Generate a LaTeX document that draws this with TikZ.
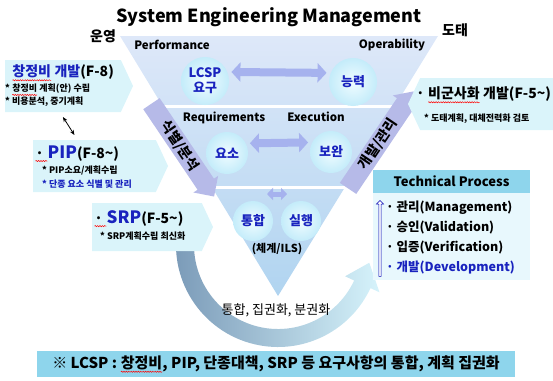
\documentclass[tikz,border=0pt]{standalone}
\usepackage{fontspec}
\setmainfont{Noto Sans CJK KR}
\usetikzlibrary{arrows.meta,positioning,shapes.arrows,shapes.symbols,decorations.pathmorphing}

\definecolor{kblue}{RGB}{25,35,190}
\definecolor{bandtop}{RGB}{222,232,249}
\definecolor{bandbot}{RGB}{176,212,240}
\definecolor{bubblein}{RGB}{240,252,255}
\definecolor{bubbleout}{RGB}{196,236,250}
\definecolor{dblarr}{RGB}{166,178,238}
\definecolor{sidearr}{RGB}{182,186,232}
\definecolor{boxcyan}{RGB}{218,244,250}
\definecolor{headcyan}{RGB}{142,213,236}
\definecolor{bodycyan}{RGB}{232,248,253}
\definecolor{arcdark}{RGB}{120,152,182}
\definecolor{arcpale}{RGB}{214,243,251}

\newcommand{\fsz}[1]{\fontsize{#1}{#1}\selectfont}
\newcommand{\squig}[1]{\tikz[baseline=(sq.base)]{\node[inner sep=0pt, outer sep=0pt, minimum width=0pt,
    minimum height=0pt, fill=none, draw=none, anchor=center] (sq) {#1};
  \draw[red, line width=0.5pt, decorate, decoration={snake, amplitude=0.6pt, segment length=2.4pt}]
    ([yshift=-2.2pt]sq.south west) -- ([yshift=-2.2pt]sq.south east);}}

\begin{document}
\begin{tikzpicture}[x=1pt, y=-1pt,
    bubble/.style={circle, minimum size=#1, inner sep=0pt, align=center,
      inner color=bubblein, outer color=bubbleout, text=kblue, font=\bfseries\fsz{13}},
    phase/.style={font=\bfseries\fsz{11.5}},
    dblarrow/.style={dblarr, line width=8pt, shorten <=4pt, shorten >=4pt,
      {Triangle[length=9pt,width=19pt]}-{Triangle[length=9pt,width=19pt]}},
    dblsmall/.style={dblarr, line width=5pt, {Triangle[length=6pt,width=12pt]}-{Triangle[length=6pt,width=12pt]}},
    sidearrow/.style={single arrow, fill=sidearr, minimum height=#1, inner sep=2.5pt,
      single arrow head extend=5pt, font=\bfseries\fsz{14}},
    planbox/.style={signal, signal pointer angle=130, fill=boxcyan, inner sep=0pt, outer sep=0pt, minimum height=52pt},
    note/.style={anchor=west, inner sep=0pt, font=\bfseries\fsz{9}},
    item/.style={anchor=west, inner sep=0pt, font=\bfseries\fsz{12.5}}
  ]
  \useasboundingbox (0,0) rectangle (553,380);

  % Triangle
  \shade[top color=bandtop, bottom color=bandbot] (120,36) -- (438,36) -- (278,296) -- cycle;
  \draw[white, line width=3pt] (158,106) -- (400,106);
  \draw[white, line width=3pt] (208,187) -- (350,187);

  % Curved arrow
  \coordinate (hub) at (278,245);
  \shade[left color=arcdark, right color=arcpale]
    ([shift={(190:102)}]hub) arc[start angle=190, end angle=25, radius=102]
    -- ([shift={(25:112)}]hub) -- ([shift={(11:93)}]hub) -- ([shift={(25:74)}]hub)
    -- ([shift={(25:84)}]hub) arc[start angle=25, end angle=190, radius=84] -- cycle;
  \node[font=\fsz{13}] (modes) at (276,310) {통합, 집권화, 분권화};

  % Titles
  \node[font=\bfseries\fsz{18}] (title) at (269,17) {System Engineering Management};
  \node[font=\bfseries\fsz{14}] (operate) at (103,36) {운영};
  \node[font=\bfseries\fsz{14}] (retire) at (455,30) {도태};

  % Layers
  \node[phase] (perf) at (172,45) {Performance};
  \node[phase] (oper) at (392,45) {Operability};
  \node[phase] (req) at (224,118) {Requirements};
  \node[phase] (exe) at (316,117) {Execution};

  \node[bubble=48pt, font=\bfseries\fontsize{13}{15}\selectfont] (lcsp) at (205,81) {LCSP\\요구};
  \node[bubble=48pt] (ability) at (353,82) {능력};
  \node[bubble=42pt] (element) at (227,153) {요소};
  \node[bubble=42pt] (supplement) at (331,152) {보완};
  \node[bubble=40pt] (integrate) at (253,221) {통합};
  \node[bubble=40pt] (execute) at (301,221) {실행};
  \node[font=\bfseries\fsz{11}] (ils) at (277,249) {(체계/ILS)};

  \draw[dblarrow] (lcsp.22) -- (ability.158);
  \draw[dblarrow] (element.27) -- (supplement.153);
  \draw[dblsmall] ([shift={(14,-27)}]integrate.center) -- ([shift={(-14,-27)}]execute.center);

  \node[sidearrow=112pt, rotate=-56] (identify) at (180,146) {식별/분석};
  \node[sidearrow=117pt, rotate=56] (develop) at (378,144) {개발/관리};

  % Left plan boxes
  \node[planbox, signal to=east, minimum width=128pt, anchor=west] (repairbox) at (5,86) {};
  \node[planbox, signal to=east, minimum width=135pt, anchor=west] (pipbox) at (33,166) {};
  \node[planbox, signal to=east, minimum width=121pt, minimum height=48pt, anchor=west] (srpbox) at (92,227) {};
  \node[planbox, signal to=west, minimum width=145pt, anchor=east] (civbox) at (553,104) {};

  \node[anchor=west, inner sep=0pt, font=\bfseries\fsz{14}] (repairttl) at (12,73) {\textcolor{kblue}{\squig{창정비} 개발}(F-8)};
  \node[note] (repair1) at (5,90) {* \squig{창정비} 계획(안) 수립};
  \node[note] (repair2) at (5,102) {* 비용분석, 중기계획};

  \node[anchor=west, inner sep=0pt, font=\bfseries\fsz{14}] (pipttl) at (35,154) {\squig{\makebox[12pt][l]{·}}{\fsz{17}\textcolor{kblue}{PIP}}(F-8\textasciitilde)};
  \node[note] (pip1) at (42,170) {* PIP소요/계획수립};
  \node[note, text=kblue] (pip2) at (42,184) {* 단종 요소 식별 및 관리};

  \node[anchor=west, inner sep=0pt, font=\bfseries\fsz{14}] (srpttl) at (94,219) {\squig{\makebox[12pt][l]{·}}{\fsz{17}\textcolor{kblue}{SRP}}(F-5\textasciitilde)};
  \node[note] (srp1) at (100,236) {* SRP계획수립 최신화};

  \node[anchor=west, inner sep=0pt, font=\bfseries\fsz{14}] (civttl) at (416,95) {· \squig{비군사화} 개발(F-5\textasciitilde)};
  \node[note] (civ1) at (424,119) {* 도태계획, 대체전력화 검토};

  \draw[{Stealth[length=5pt,width=4pt]}-{Stealth[length=5pt,width=4pt]}, line width=0.8pt]
    ([shift={(0,5)}]repairbox.south) -- ([shift={(-20,-5)}]pipbox.north);

  % Technical process
  \node[fill=headcyan, minimum width=157pt, minimum height=23pt, inner sep=0pt, outer sep=0pt,
    font=\bfseries\fsz{13}, anchor=north west] (tphead) at (373,170) {Technical Process};
  \node[fill=bodycyan, minimum width=157pt, minimum height=87pt, inner sep=0pt, outer sep=0pt,
    below=0pt of tphead] (tpbody) {};
  \node[item] (manage) at (386,208) {· 관리(Management)};
  \node[item] (validate) at (386,228) {· 승인(Validation)};
  \node[item] (verify) at (386,248) {· 입증(Verification)};
  \node[item, text=kblue] (devel) at (386,268) {· 개발(Development)};
  \node[single arrow, draw=blue!70!black, fill=white, line width=0.5pt, rotate=90, minimum height=76pt,
    inner sep=0.8pt, single arrow head extend=2.5pt] (upflow) at (380,239) {};

  % Summary
  \node[fill=headcyan, minimum width=478pt, minimum height=26pt, inner sep=0pt, font=\bfseries\fsz{15}]
    (summary) at (276,364) {※ LCSP : \squig{창정비}, PIP, 단종대책, SRP 등 요구사항의 통합, 계획 집권화};

\end{tikzpicture}
\end{document}
